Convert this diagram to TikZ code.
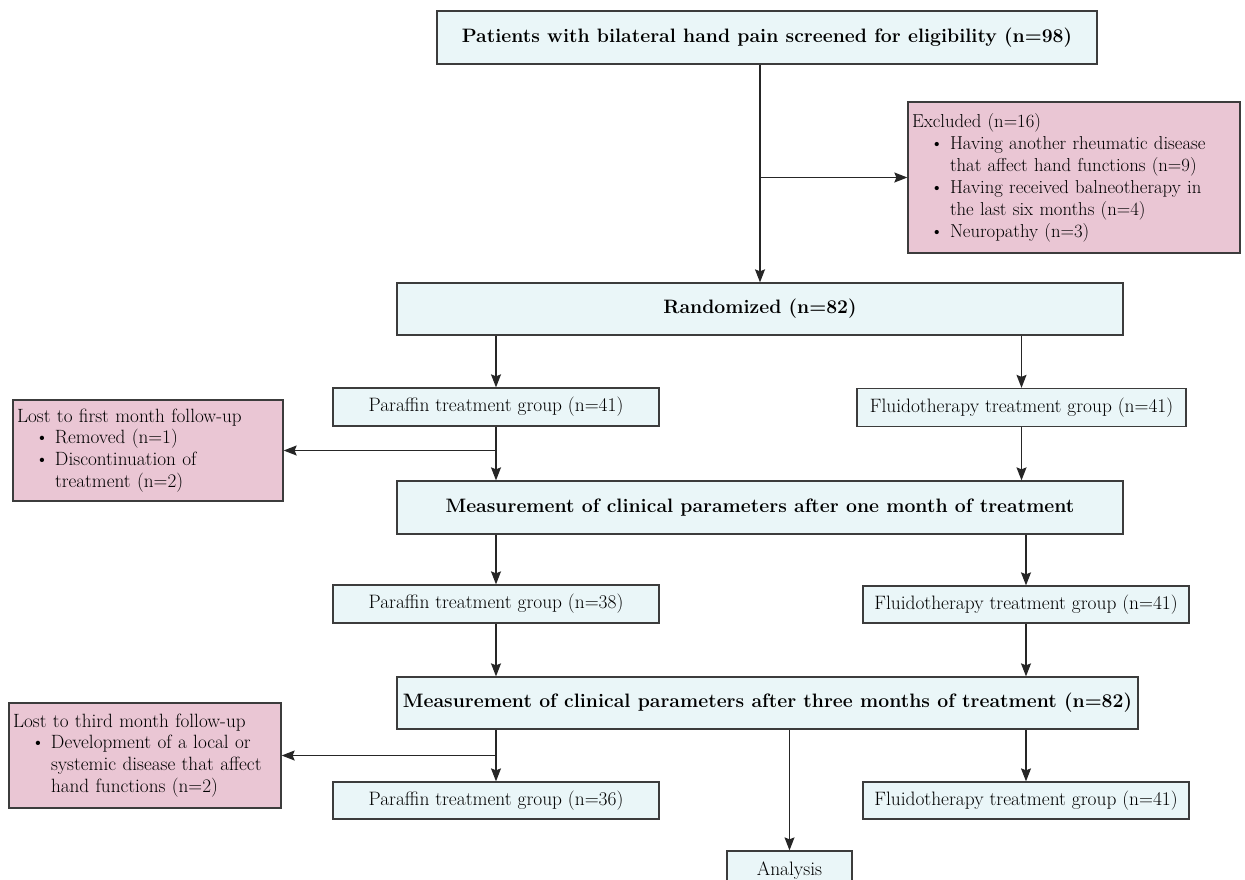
\documentclass[tikz,border=0pt]{standalone}
\usetikzlibrary{arrows.meta}
\definecolor{boxblue}{RGB}{234,246,248}
\definecolor{boxpink}{RGB}{234,198,212}
\definecolor{edgegray}{RGB}{60,60,60}
\newcommand\bitem[1]{\mbox{\hspace*{18pt}\makebox[20pt][l]{\textbullet}#1}}
\newcommand\bcont[1]{\mbox{\hspace*{38pt}#1}}
\tikzset{
 bluebox/.style={draw=edgegray, line width=1.3pt, fill=boxblue, inner sep=0pt, font=\fontsize{19.4}{22}\selectfont},
 boldbox/.style={bluebox, font=\fontsize{19.4}{22}\selectfont\bfseries},
 pinkbox/.style={draw=edgegray, line width=1.3pt, fill=boxpink, inner sep=4pt, align=left, font=\fontsize{19.2}{21.8}\selectfont},
 conn/.style={line width=1.2pt, draw=black!85},
 arr/.style={conn, -{Stealth[length=13pt,width=10pt,inset=2pt]}},
}
\begin{document}
\begin{tikzpicture}[x=1pt,y=-1pt]
\useasboundingbox (0,0) rectangle (1245,879);
\fill[white] (0,0) rectangle (1245,879);
\clip (0,0) rectangle (1245,879);
% boxes
\node[boldbox, minimum width=660pt, minimum height=53pt] (screen) at (767,37.5) {Patients with bilateral hand pain screened for eligibility (n=98)};
\node[pinkbox, text width=324pt, minimum height=151pt, font=\fontsize{18.7}{22}\selectfont] (excl) at (1074,177.5) {\mbox{Excluded (n=16)}\\
\bitem{Having another rheumatic disease}\\
\bcont{that affect hand functions (n=9)}\\
\bitem{Having received balneotherapy in}\\
\bcont{the last six months (n=4)}\\
\bitem{Neuropathy (n=3)}};
\node[boldbox, minimum width=726pt, minimum height=52pt] (rand) at (760,309) {Randomized (n=82)};
\node[bluebox, minimum width=326pt, minimum height=38pt] (par1) at (496,407) {Paraffin treatment group (n=41)};
\node[bluebox, minimum width=329pt, minimum height=38pt] (flu1) at (1021.5,407.5) {Fluidotherapy treatment group (n=41)};
\node[pinkbox, text width=262pt, minimum height=101pt] (lost1) at (148,450.5) {\mbox{Lost to first month follow-up}\\
\bitem{Removed (n=1)}\\
\bitem{Discontinuation of}\\
\bcont{treatment (n=2)}};
\node[boldbox, minimum width=726pt, minimum height=53pt] (m1) at (760,507.5) {Measurement of clinical parameters after one month of treatment};
\node[bluebox, minimum width=326pt, minimum height=38pt] (par2) at (496,604) {Paraffin treatment group (n=38)};
\node[bluebox, minimum width=326pt, minimum height=37pt] (flu2) at (1026,604.5) {Fluidotherapy treatment group (n=41)};
\node[boldbox, minimum width=741pt, minimum height=52pt] (m3) at (767.5,703) {Measurement of clinical parameters after three months of treatment (n=82)};
\node[pinkbox, text width=264pt, minimum height=105pt] (lost3) at (145,755.5) {\mbox{Lost to third month follow-up}\\
\bitem{Development of a local or}\\
\bcont{systemic disease that affect}\\
\bcont{hand functions (n=2)}};
\node[bluebox, minimum width=326pt, minimum height=37pt] (par3) at (496,800.5) {Paraffin treatment group (n=36)};
\node[bluebox, minimum width=326pt, minimum height=37pt] (flu3) at (1026,800.5) {Fluidotherapy treatment group (n=41)};
\node[bluebox, minimum width=125pt, minimum height=39pt] (ana) at (789.5,870.5) {Analysis};
% connectors
\coordinate (b0) at (rand.north |- excl.west);
\draw[arr] (screen.south -| rand.north) -- (rand.north);
\draw[arr] (b0) -- (excl.west);
\draw[arr] (rand.south -| par1.north) -- (par1.north);
\draw[arr] (rand.south -| flu1.north) -- (flu1.north);
\coordinate (b1) at (par1.south |- lost1.east);
\draw[arr] (par1.south) -- (par1.south |- m1.north);
\draw[arr] (b1) -- (lost1.east);
\draw[arr] (flu1.south) -- (flu1.south |- m1.north);
\draw[arr] (m1.south -| par2.north) -- (par2.north);
\draw[arr] (m1.south -| flu2.north) -- (flu2.north);
\draw[arr] (par2.south) -- (par2.south |- m3.north);
\draw[arr] (flu2.south) -- (flu2.south |- m3.north);
\coordinate (b3) at (par3.north |- lost3.east);
\draw[arr] (m3.south -| par3.north) -- (par3.north);
\draw[arr] (b3) -- (lost3.east);
\draw[arr] (m3.south -| flu3.north) -- (flu3.north);
\draw[arr] (m3.south -| ana.north) -- (ana.north);
\end{tikzpicture}
\end{document}
